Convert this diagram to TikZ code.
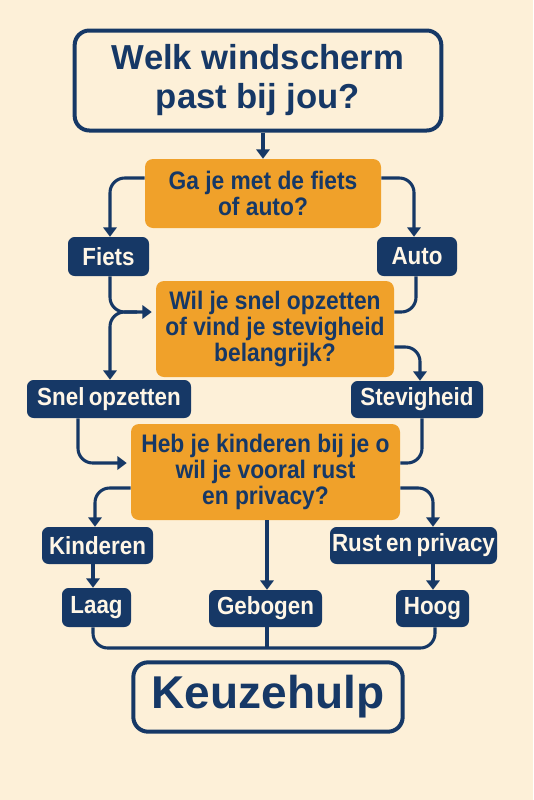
\documentclass[tikz,border=0pt]{standalone}
\usepackage{fontspec}
\setmainfont{Liberation Sans}
\newfontfamily\lblfont{Liberation Sans}[FakeStretch=0.9]
\newfontfamily\tagfont{Liberation Sans}[FakeStretch=0.902,WordSpace=0.7]
\usetikzlibrary{arrows.meta,calc}
\definecolor{bg}{RGB}{253,240,216}
\definecolor{navy}{RGB}{22,56,102}
\definecolor{orng}{RGB}{240,161,42}
\definecolor{cream}{RGB}{255,246,230}
\begin{document}
\begin{tikzpicture}[x=0.75pt,y=-0.75pt,
  outerbox/.style={draw=navy, line width=3pt, fill=bg, rounded corners=11pt, text=navy, align=center, inner sep=0pt},
  qbox/.style={fill=orng, rounded corners=6pt, text=navy, align=center, inner sep=0pt,
    font=\lblfont\bfseries\fontsize{19}{19.5}\selectfont},
  lbl/.style={fill=navy, rounded corners=5pt, text=cream, inner sep=0pt,
    font=\tagfont\bfseries\fontsize{18.6}{20}\selectfont},
  conn/.style={draw=navy, line width=2.3pt, rounded corners=11pt},
  arr/.style={conn, -{Triangle[width=10pt,length=7pt]}}]
\fill[bg] (0,0) rectangle (533,800);
\useasboundingbox (0,0) rectangle (533,800);

\node[outerbox, minimum width=275pt, minimum height=75pt,
  font=\bfseries\fontsize{26}{29.25}\selectfont] (title) at (258,80.5) {Welk windscherm\\past bij jou?};
\node[qbox, minimum width=177pt, minimum height=51.75pt] (box1) at (263,193.5) {Ga je met de fiets\\of auto?};
\node[lbl, minimum width=60.75pt, minimum height=29.25pt] (fiets) at (108.5,256.5) {Fiets};
\node[lbl, minimum width=60pt, minimum height=29.25pt] (auto) at (417,256.5) {Auto};
\node[qbox, minimum width=178.5pt, minimum height=72pt] (box2) at (275,329) {Wil je snel opzetten\\of vind je stevigheid\\belangrijk?};
\node[lbl, minimum width=123pt, minimum height=28.5pt] (snel) at (109,399) {Snel opzetten};
\node[lbl, minimum width=99pt, minimum height=27.75pt] (stev) at (417,399.5) {Stevigheid};
\node[qbox, minimum width=201.75pt, minimum height=72pt] (box3) at (265.5,472) {Heb je kinderen bij je o\\wil je vooral rust\hspace*{12pt}\\en privacy?};
\node[lbl, minimum width=83.25pt, minimum height=27.75pt] (kind) at (97.5,545.5) {Kinderen};
\node[lbl, minimum width=125.25pt, minimum height=27.75pt] (rust) at (413.5,545.5) {Rust en privacy};
\node[lbl, minimum width=51.75pt, minimum height=29.25pt] (laag) at (96.5,607.5) {Laag};
\node[lbl, minimum width=84.75pt, minimum height=27.75pt] (geb) at (265.5,608.5) {Gebogen};
\node[lbl, minimum width=54.75pt, minimum height=27.75pt] (hoog) at (432.5,608.5) {Hoog};
\node[outerbox, minimum width=202pt, minimum height=52pt,
  font=\bfseries\fontsize{34.5}{36}\selectfont] (keuze) at (268,697) {Keuzehulp};

\draw[arr] (box1.north |- title.south) -- (box1.north);
\draw[arr] (box1.west |- 0,178) -| (fiets.north -| 110,0);
\draw[arr] (box1.east |- 0,178) -| (auto.north -| 414,0);
\draw[arr, shorten <=14pt] (box2.west |- 0,312) -| (snel.north -| 110,0);
\draw[arr, shorten >=3pt] (fiets.south -| 110,0) |- (box2.west |- 0,312);
\draw[conn] (auto.south -| 416,0) |- (box2.east |- 0,312);
\draw[arr] (box2.east |- 0,347) -| (stev.north -| 420,0);
\draw[arr, shorten >=3pt] (snel.south -| 78,0) |- (box3.west |- 0,463);
\draw[conn] (stev.south -| 422,0) |- (box3.east |- 0,463);
\draw[arr] (box3.west |- 0,488) -| (kind.north -| 95,0);
\draw[arr] (box3.east |- 0,488) -| (rust.north -| 433,0);
\draw[arr] (box3.south -| 267,0) -- (geb.north -| 267,0);
\draw[arr] (kind.south -| 93,0) -- (laag.north -| 93,0);
\draw[arr] (rust.south -| 433,0) -- (hoog.north -| 433,0);
\draw[conn] (laag.south -| 93,0) -- (93,648) -- (435,648) -- (hoog.south -| 435,0);
\draw[conn] (geb.south -| 267,0) -- (267,648);
\end{tikzpicture}
\end{document}
